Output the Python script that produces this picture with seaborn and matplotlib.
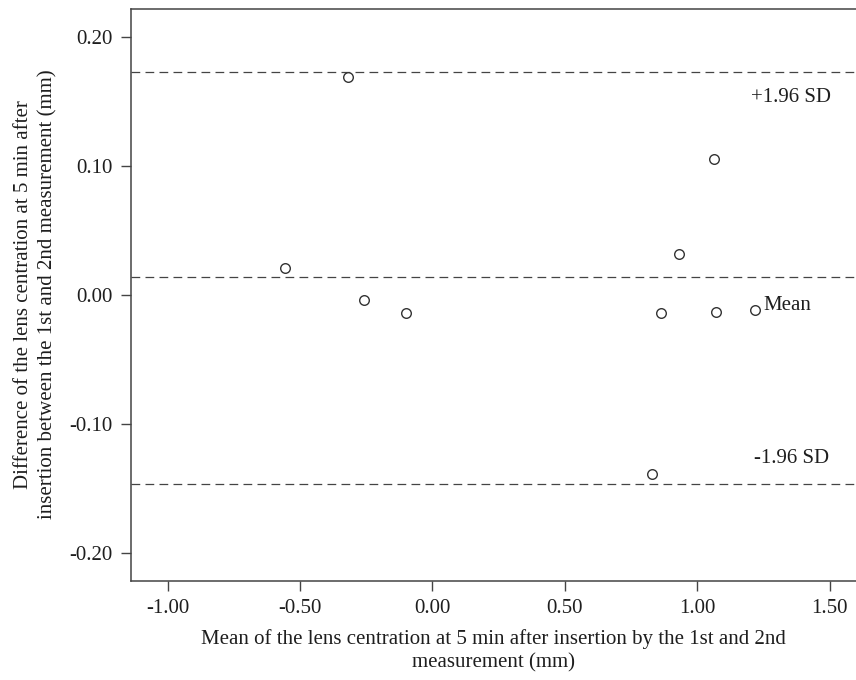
import matplotlib
matplotlib.use("Agg")
import matplotlib.pyplot as plt
import seaborn as sns
import pandas as pd

# Data
mean_vals = [-0.318, -0.557, -0.259, -0.099, 1.062, 0.933, 0.865, 1.073, 1.220, 0.830]
diff_vals = [0.1685, 0.0207, -0.0041, -0.0144, 0.1054, 0.0318, -0.0142, -0.0132, -0.0121, -0.139]
mean_line = 0.0133
upper_loa = 0.1726
lower_loa = -0.1467
x_ticks = [-1.00, -0.50, 0.00, 0.50, 1.00, 1.50]
x_ticklabels = ["-1.00", "-0.50", "0.00", "0.50", "1.00", "1.50"]
y_ticks = [-0.20, -0.10, 0.00, 0.10, 0.20]
y_ticklabels = ["-0.20", "-0.10", "0.00", "0.10", "0.20"]

sns.set_style("ticks")
plt.rcParams["font.family"] = ["Liberation Serif", "DejaVu Serif"]
plt.rcParams["axes.unicode_minus"] = False

df = pd.DataFrame({"mean": mean_vals, "diff": diff_vals})

fig = plt.figure(figsize=(8.56, 6.8), dpi=100)
ax = fig.add_axes([131 / 856, 1 - 580.5 / 680, 1 - 131 / 856, (580.5 - 8.7) / 680])

line_col = "#444444"
for yv in (upper_loa, mean_line, lower_loa):
    ax.axhline(yv, color=line_col, lw=0.9, dashes=(7, 4.2), zorder=1)

sns.scatterplot(data=df, x="mean", y="diff", ax=ax, marker="o", s=48,
                facecolor="white", edgecolor="#333333", linewidth=1.0, zorder=3)

ax.set_xlim(-1.138, 1.60)
ax.set_ylim(-0.2217, 0.2217)
ax.set_xticks(x_ticks)
ax.set_xticklabels(x_ticklabels)
ax.set_yticks(y_ticks)
ax.set_yticklabels(y_ticklabels)

for side in ("left", "top", "bottom"):
    ax.spines[side].set_color("#444444")
    ax.spines[side].set_linewidth(1.1)
ax.spines["right"].set_visible(False)
ax.tick_params(axis="both", direction="out", length=7, width=1.0, color="#444444",
               labelsize=15, labelcolor="#1e1e1e", pad=6)

ax.set_xlabel("Mean of the lens centration at 5 min after insertion by the 1st and 2nd\nmeasurement (mm)",
              fontsize=15, color="#1e1e1e", labelpad=8, linespacing=1.3)
ax.set_ylabel("Difference of the lens centration at 5 min after\ninsertion between the 1st and 2nd measurement (mm)",
              fontsize=15, color="#1e1e1e", labelpad=9, linespacing=1.35)

ax.text(1.204, upper_loa - 0.0201, "+1.96 SD", fontsize=15, color="#1e1e1e", ha="left", va="center")
ax.text(1.250, -0.0085, "Mean", fontsize=15, color="#1e1e1e", ha="left", va="center")
ax.text(1.215, lower_loa + 0.0195, "-1.96 SD", fontsize=15, color="#1e1e1e", ha="left", va="center")

fig.savefig("out.png", dpi=100)
